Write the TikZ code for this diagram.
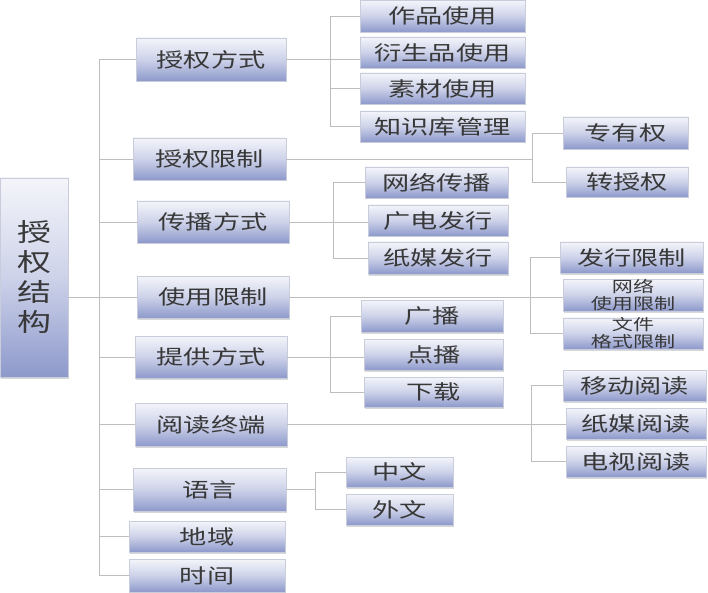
\documentclass[tikz,border=0pt]{standalone}
\usepackage{fontspec}
\newfontfamily\cjk[FakeStretch=1.36]{Noto Sans CJK SC}
\usetikzlibrary{shadows}
\definecolor{boxtop}{HTML}{F4F5FA}
\definecolor{boxmid}{HTML}{CDD2E9}
\definecolor{boxbot}{HTML}{8D99CB}
\definecolor{boxline}{HTML}{C9CCDA}
\definecolor{connc}{HTML}{BDBDBD}
\definecolor{txt}{HTML}{383838}
\begin{document}
\begin{tikzpicture}[x=1pt,y=-1pt,
  box/.style={draw=boxline, line width=0.5pt, top color=boxtop, bottom color=boxbot, middle color=boxmid,
    text=txt, inner sep=0pt, font=\cjk\fontsize{20}{24}\selectfont,
    drop shadow={shadow xshift=1pt, shadow yshift=-1.5pt, opacity=0.3, fill=black!50}},
  small/.style={font=\cjk\fontsize{15.5}{17}\selectfont, align=center},
  link/.style={draw=connc, line width=0.8pt}]
\fill[white] (0,0) rectangle (708,593);
\useasboundingbox (0,0) rectangle (708,593);

% root
\node[box, minimum width=68, minimum height=199, align=center, font=\cjk\fontsize{25}{30}\selectfont] (root) at (34,277.5) {授\\权\\结\\构};

% level 1
\node[box, minimum width=150, minimum height=43] (A) at (211,59.5) {授权方式};
\node[box, minimum width=153, minimum height=42] (B) at (209.5,159) {授权限制};
\node[box, minimum width=152, minimum height=42] (C) at (213,222) {传播方式};
\node[box, minimum width=152, minimum height=42] (D) at (213,297) {使用限制};
\node[box, minimum width=152, minimum height=42] (E) at (211,357) {提供方式};
\node[box, minimum width=152, minimum height=43] (F) at (211,424.5) {阅读终端};
\node[box, minimum width=153, minimum height=43] (G) at (209.5,489.5) {语言};
\node[box, minimum width=156, minimum height=31] (H) at (207,536.5) {地域};
\node[box, minimum width=156, minimum height=33] (I) at (207,575.5) {时间};

% level 2
\node[box, minimum width=165, minimum height=32] (A1) at (442.5,16) {作品使用};
\node[box, minimum width=165, minimum height=31] (A2) at (442.5,52.5) {衍生品使用};
\node[box, minimum width=165, minimum height=31] (A3) at (442.5,88.5) {素材使用};
\node[box, minimum width=165, minimum height=31] (A4) at (442.5,126.5) {知识库管理};

\node[box, minimum width=125, minimum height=32] (B1) at (625.5,133) {专有权};
\node[box, minimum width=122, minimum height=30] (B2) at (627,182) {转授权};

\node[box, minimum width=143, minimum height=31] (C1) at (436.5,182.5) {网络传播};
\node[box, minimum width=140, minimum height=31] (C2) at (438,220.5) {广电发行};
\node[box, minimum width=140, minimum height=32] (C3) at (438,258) {纸媒发行};

\node[box, minimum width=143, minimum height=31] (D1) at (631.5,257.5) {发行限制};
\node[box, small, minimum width=140, minimum height=32] (D2) at (633,295) {网络\\使用限制};
\node[box, small, minimum width=140, minimum height=31] (D3) at (633,333.5) {文件\\格式限制};

\node[box, minimum width=142, minimum height=32] (E1) at (432,316) {广播};
\node[box, minimum width=139, minimum height=31] (E2) at (433.5,354.5) {点播};
\node[box, minimum width=139, minimum height=30] (E3) at (433.5,392) {下载};

\node[box, minimum width=143, minimum height=31] (F1) at (634.5,385.5) {移动阅读};
\node[box, minimum width=140, minimum height=31] (F2) at (636,423.5) {纸媒阅读};
\node[box, minimum width=140, minimum height=31] (F3) at (636,461.5) {电视阅读};

\node[box, minimum width=107, minimum height=30] (G1) at (399.5,472) {中文};
\node[box, minimum width=107, minimum height=31] (G2) at (399.5,509.5) {外文};

% connectors: trunk
\coordinate (tr) at (99,0);
\draw[link] (tr |- A.west) -- (tr |- I.west);
\foreach \n in {A,B,C,D,E,F,G,H,I} \draw[link] (tr |- \n.west) -- (\n.west);
\draw[link] (root.east |- D.west) -- (tr |- D.west);

% group A
\coordinate (ba) at (330,0);
\draw[link] (ba |- A1.west) -- (ba |- A4.west);
\draw[link] (A.east) -- (A.east -| A2.west);
\foreach \n in {A1,A3,A4} \draw[link] (ba |- \n.west) -- (\n.west);

% group B
\coordinate (bb) at (532,0);
\draw[link] (bb |- B1.west) -- (bb |- B2.west);
\draw[link] (B.east) -- (bb |- B.east);
\foreach \n in {B1,B2} \draw[link] (bb |- \n.west) -- (\n.west);

% group C
\coordinate (bc) at (333,0);
\draw[link] (bc |- C1.west) -- (bc |- C3.west);
\draw[link] (C.east) -- (C.east -| C2.west);
\foreach \n in {C1,C3} \draw[link] (bc |- \n.west) -- (\n.west);

% group D
\coordinate (bd) at (530,0);
\draw[link] (bd |- D1.west) -- (bd |- D3.west);
\draw[link] (D.east) -- (D.east -| D2.west);
\foreach \n in {D1,D3} \draw[link] (bd |- \n.west) -- (\n.west);

% group E
\coordinate (be) at (330,0);
\draw[link] (be |- E1.west) -- (be |- E3.west);
\draw[link] (E.east) -- (E.east -| E2.west);
\foreach \n in {E1,E3} \draw[link] (be |- \n.west) -- (\n.west);

% group F
\coordinate (bf) at (531,0);
\draw[link] (bf |- F1.west) -- (bf |- F3.west);
\draw[link] (F.east) -- (F.east -| F2.west);
\foreach \n in {F1,F3} \draw[link] (bf |- \n.west) -- (\n.west);

% group G
\coordinate (bg) at (315,0);
\draw[link] (bg |- G1.west) -- (bg |- G2.west);
\draw[link] (G.east) -- (bg |- G.east);
\foreach \n in {G1,G2} \draw[link] (bg |- \n.west) -- (\n.west);
\end{tikzpicture}
\end{document}
